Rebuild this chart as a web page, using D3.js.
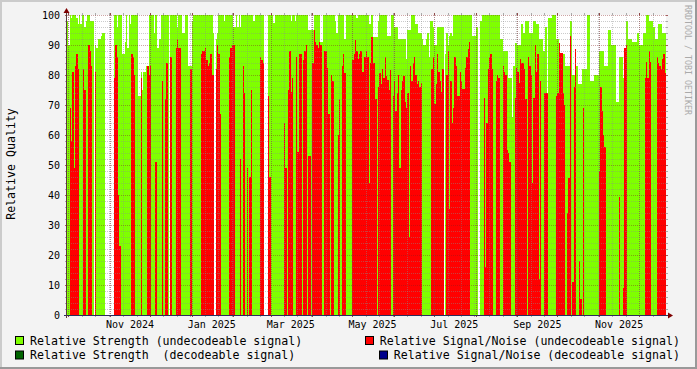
<!DOCTYPE html>
<html>
<head>
<meta charset="utf-8">
<script src="https://cdn.jsdelivr.net/npm/d3@7"></script>
<style>
html, body { margin: 0; padding: 0; background: #f3f3f3; }
svg { display: block; font-family: "DejaVu Sans Mono", monospace; }
</style>
</head>
<body>
<div id="chart"></div>
<script>
// one value per day, starting on this date (null = no data)
const firstDay = "2024-09-30";

const strength = [
  98, 90, 100, 99, 100, 100, 100, 99, 97, 100,
  97, 100, 100, 96, 98, 100, 100, 98, 98, 98,
  null, 90, 89, 92, 92, 93, 94, 94, null, null,
  null, null, null, null, null, 100, 100, 96, 100, 100,
  100, 87, 87, 91, 100, 89, 100, 97, 100, 100,
  100, 100, 100, 73, 73, 81, 75, 81, 81, 83,
  83, 100, 100, 100, 100, 94, 100, 89, 89, 92,
  100, 100, 100, 100, 100, 100, null, 100, 100, 100,
  100, 100, 96, 100, 100, 100, 94, 94, 100, 100,
  83, 83, 83, 98, 100, 100, 100, 100, 100, 100,
  100, 100, 100, 100, 100, 100, 100, 100, 100, 94,
  null, 92, 94, 100, 100, 100, 100, 98, 100, 100,
  100, 100, 100, 100, 96, 96, 100, 96, 100, 96,
  100, 100, 100, 100, 100, 100, 100, 100, 100, 98,
  100, 100, 100, 100, 100, 100, 100, null, null, null,
  100, 100, 100, 100, 97.5, 100, 100, 100, 100, 100,
  100, 100, 100, 100, 100, 100, 100, 98, 100, 100,
  98, 100, 100, 100, 100, 100, 100, 100, 100, 100,
  95, 95, 95, 95, 100, 100, 100, 100, 100, 91,
  91, 100, 100, 100, 100, 100, 100, 100, 100, 100,
  98, 94, 100, 100, 100, 100, 100, 92, 100, 100,
  100, 100, 100, 100, 100, 100, 99, 100, 100, 100,
  100, 100, 100, 100, 100, 97, 97, 100, 92.5, 92.5,
  92.5, 92.5, 98, 100, 100, 100, 100, 100, 100, 93,
  93, 93, 100, 100, 96, 96, 96, 92, 92, 92,
  92, 92, 92, 85.5, 95, 95, 95, 100, 100, 100,
  97, 97, 94, 94, 94, 92, 90, 90, 92, 94,
  86, 98, 98, 96, 90, 90, 96, 96, 96, 96,
  96, null, 87, 94, 90, 93, 94, 93, 100, 100,
  100, 100, 100, 100, 100, 100, 100, 100, 100, 100,
  100, 100, 93, 93, 93, 96, 96, null, 98, 98,
  100, 100, 100, 100, 100, 100, 100, 100, 100, 100,
  100, 100, 100, 92, 92, 88, 88, 88, 88, 79,
  79, 79, 66, 83, 90.5, 90.5, 90, 90, 90, 97,
  94, 94, 98, 98, 98, 94, 94, 94, 98, 98,
  97, 97, 92, 92, 92, 88, 88, 96, 64, 99,
  99, 99, 100, 100, 100, 92, 92, 83, 83, 83,
  87, 87, 83, 83, 83, 98, 98, 80, 80, 83,
  83, 77, 77, 77, 82, 82, 82, 82, 100, 100,
  78, 78, 78, 80, 80, 80, 80, 88, 88, 88,
  88, 83, 83, 83, 95, 95, 90, 90, 90, 90,
  71, 71, 86, 86, 86, 79, 79, 98, 98, 92,
  92, 92, 91, 91, 91, 94, 94, 90, 90, 90,
  94, 94, 100, 100, 98, 98, 98, 96, 96, 92,
  92, 97, 97, 97, 94, 94, 94
];

const snr = [
  0, 0, 69, 58, 81, 49, 83, 87, 82, 0,
  0, 0, 82, 75, 0, 0, 90, 88, 83, 0,
  null, 81, 0, 0, 0, 0, 0, 0, null, null,
  null, null, null, null, null, 79, 90, 86, 40, 23,
  0, 0, 0, 0, 0, 0, 0, 0, 87, 86,
  80, 0, 0, 0, 0, 79, 0, 0, 0, 0,
  83, 80, 83, 0, 0, 0, 51, 0, 0, 0,
  0, 78, 0, 72, 84, 0, null, 86, 0, 0,
  0, 89, 92, 89, 89, 0, 0, 0, 0, 0,
  0, 0, 82, 0, 0, 0, 0, 0, 0, 0,
  87, 88, 88, 89, 85, 83, 84, 87, 80, 80,
  null, 82, 90, 87, 67, 0, 0, 0, 0, 0,
  0, 86, 89, 90, 90, 0, 0, 0, 0, 52,
  0, 83, 74, 0, 49, 0, 46, 75, 0, 0,
  0, 0, 0, 0, 86, 85, 84, null, null, null,
  73, 46, 0, 0, 0, 0, 0, 0, 0, 0,
  0, 0, 64, 49, 0, 75, 88, 74.5, 79, 0,
  0, 86, 54.5, 87, 87, 0, 85, 88, 90, 0,
  53, 53, 0, 84, 95, 91, 90, 89, 91, 90,
  0, 0, 88, 88, 82.5, 67, 0, 80, 78, 0,
  0, 0, 60, 72, 0, 83, 87, 80.5, 0, 0,
  0, 0, 0, 85, 87, 91.7, 88, 85.5, 87, 88,
  81, 81, 86, 88, 86, 44, 84, 92.5, 84, 84,
  72, 0, 76, 80.5, 77, 82, 79, 86, 79.5, 78.5,
  75, 81.7, 0, 73, 78, 68, 74, 80, 49, 75,
  78, 79.5, 71, 69, 74, 26, 83, 78, 84, 86,
  80, 77, 78, 76, 77.5, 0, 0, 0, 0, 0,
  0, 0, 82, 86, 70.5, 77, 87, 81, 78, 74.5,
  82, null, 0, 80, 88, 35.5, 78, 64, 69, 86,
  83, 73, 73, 81, 78, 75.5, 75.5, 82.5, 86, 88.5,
  91, 0, 0, 0, 0, 0, 0, null, 0, 0,
  0, 72.5, 16, 64, 82, 86, 87, 82, 0, 0,
  78, 80, 79, 0, 0, 83, 81, 80, 55, 54,
  51, 0, 0, 0, 72.5, 82.5, 81, 77.5, 85.5, 84,
  84, 82, 72, 0, 86, 83, 80, 44, 72.5, 90,
  81, 87, 12, 78, 0, 0, 74, 74, 74, 0,
  0, 0, 0, 0, 0, 73, 74, 90.5, 87.5, 87.5,
  74, 70, 0, 34, 45.5, 93, 0, 11, 76, 88.5,
  0, 0, 18, 5.5, 0, 69, 0, 0, 0, 0,
  0, 0, 0, 0, 0, 0, 0, 48, 76, 68,
  60, 56, 0, 0, 0, 0, 0, 0, 0, 0,
  0, 0, 39.5, 0, 0, 9, 89, 90, 0, 0,
  0, 0, 0, 0, 0, 0, 0, 0, 0, 0,
  0, 79, 84.5, 79, 88, 84.5, 0, 0, 0, 0,
  86, 84, 83, 82, 85.5, 87, 80.5
];

const yTicks = [0, 10, 20, 30, 40, 50, 60, 70, 80, 90, 100];
const xLabels = ["Nov 2024", "Jan 2025", "Mar 2025", "May 2025", "Jul 2025", "Sep 2025", "Nov 2025"];

const legendLeft = [
  { name: "Relative Strength (undecodeable signal)", color: "#7fff00" },
  { name: "Relative Strength  (decodeable signal)", color: "#006400" }
];
const legendRight = [
  { name: "Relative Signal/Noise (undecodeable signal)", color: "#ff0000" },
  { name: "Relative Signal/Noise (decodeable signal)", color: "#00008b" }
];

const W = 697, H = 369;
const plotL = 67, plotR = 666, plotT = 15, plotB = 315;

const start = d3.utcParse("%Y-%m-%d")(firstDay);
const end = d3.utcDay.offset(start, strength.length);

const x = d3.scaleUtc().domain([start, end]).range([plotL, plotR]);
const y = d3.scaleLinear().domain([0, 100]).range([plotB, plotT]);

const svg = d3.select("#chart").append("svg")
    .attr("width", W)
    .attr("height", H);

// background + 3d frame
svg.append("rect").attr("width", W).attr("height", H).attr("fill", "#f3f3f3");
svg.append("rect").attr("x", 0).attr("y", 0).attr("width", W).attr("height", 2).attr("fill", "#cbcbcb");
svg.append("rect").attr("x", 0).attr("y", 0).attr("width", 2).attr("height", H).attr("fill", "#cbcbcb");
svg.append("rect").attr("x", 0).attr("y", H - 2).attr("width", W).attr("height", 2).attr("fill", "#999");
svg.append("rect").attr("x", W - 2).attr("y", 0).attr("width", 2).attr("height", H).attr("fill", "#999");

// canvas
svg.append("rect")
    .attr("x", plotL).attr("y", plotT)
    .attr("width", plotR - plotL).attr("height", plotB - plotT)
    .attr("fill", "#fff");

const days = strength.map((v, i) => ({
    x0: Math.round(x(d3.utcDay.offset(start, i))),
    x1: Math.round(x(d3.utcDay.offset(start, i + 1))),
    g: v,
    r: snr[i]
}));

const bars = svg.append("g").attr("shape-rendering", "crispEdges");

bars.selectAll(".g")
    .data(days.filter(d => d.g != null))
    .enter()
    .append("rect")
    .attr("x", d => d.x0)
    .attr("width", d => d.x1 - d.x0)
    .attr("y", d => Math.round(y(d.g)))
    .attr("height", d => plotB - Math.round(y(d.g)))
    .attr("fill", "#7fff00");

bars.selectAll(".r")
    .data(days.filter(d => d.r != null && d.r > 0))
    .enter()
    .append("rect")
    .attr("x", d => d.x0)
    .attr("width", d => d.x1 - d.x0)
    .attr("y", d => Math.round(y(d.r)))
    .attr("height", d => plotB - Math.round(y(d.r)))
    .attr("fill", "#ff0000");

// grid on top of the data, dotted like rrdtool, with short solid ticks outside
const grid = svg.append("g").attr("shape-rendering", "crispEdges");
const minorY = d3.range(0, 101, 2).filter(v => v % 10 !== 0);
const minorX = d3.utcDay.every(10).range(start, end);
const months = d3.utcMonth.range(start, end);

function hLines(values, color, tickColor) {
    const g = grid.append("g");
    values.forEach(v => {
        const yy = Math.round(y(v)) + 0.5;
        g.append("line")
            .attr("x1", plotL).attr("x2", plotR)
            .attr("y1", yy).attr("y2", yy)
            .attr("stroke", color)
            .attr("stroke-dasharray", "1,1");
        g.append("line").attr("x1", plotL - 2).attr("x2", plotL).attr("y1", yy).attr("y2", yy).attr("stroke", tickColor);
        g.append("line").attr("x1", plotR).attr("x2", plotR + 2).attr("y1", yy).attr("y2", yy).attr("stroke", tickColor);
    });
}
function vLines(values, color, tickColor) {
    const g = grid.append("g");
    values.forEach(d => {
        const xx = Math.round(x(d)) + 0.5;
        g.append("line")
            .attr("x1", xx).attr("x2", xx)
            .attr("y1", plotT).attr("y2", plotB)
            .attr("stroke", color)
            .attr("stroke-dasharray", "1,1");
        g.append("line").attr("x1", xx).attr("x2", xx).attr("y1", plotT - 2).attr("y2", plotT).attr("stroke", tickColor);
        g.append("line").attr("x1", xx).attr("x2", xx).attr("y1", plotB).attr("y2", plotB + 2).attr("stroke", tickColor);
    });
}

hLines(minorY, "rgba(140,140,140,0.45)", "rgba(140,140,140,0.7)");
vLines(minorX, "rgba(140,140,140,0.45)", "rgba(140,140,140,0.7)");
hLines(yTicks, "rgba(130,30,30,0.4)", "rgba(130,30,30,0.7)");
vLines(months, "rgba(130,30,30,0.4)", "rgba(130,30,30,0.7)");

// axes
svg.append("line")
    .attr("x1", plotL - 3).attr("x2", plotR + 6)
    .attr("y1", plotB + 0.5).attr("y2", plotB + 0.5)
    .attr("stroke", "#2c2c5a");
svg.append("line")
    .attr("x1", plotL - 0.5).attr("x2", plotL - 0.5)
    .attr("y1", plotB + 3).attr("y2", plotT - 6)
    .attr("stroke", "#5a3a3a");
svg.append("path")
    .attr("d", `M${plotR + 2},${plotB - 2.5}L${plotR + 7},${plotB + 0.5}L${plotR + 2},${plotB + 3.5}Z`)
    .attr("fill", "#7f0000");
svg.append("path")
    .attr("d", `M${plotL - 3.5},${plotT - 2}L${plotL - 0.5},${plotT - 7}L${plotL + 2.5},${plotT - 2}Z`)
    .attr("fill", "#7f0000");

// y tick labels
svg.append("g").selectAll("text")
    .data(yTicks)
    .enter()
    .append("text")
    .attr("x", 60)
    .attr("y", v => y(v) + 3.5)
    .attr("text-anchor", "end")
    .attr("font-size", 10)
    .attr("fill", "#000")
    .text(v => v);

// x labels, centred in the middle of their month like rrdtool does
const parseLabel = d3.utcParse("%b %Y");
svg.append("g").selectAll("text")
    .data(xLabels)
    .enter()
    .append("text")
    .attr("x", s => x(d3.utcDay.offset(parseLabel(s), 15)))
    .attr("y", 328)
    .attr("text-anchor", "middle")
    .attr("font-size", 10)
    .attr("fill", "#000")
    .text(s => s);

// y axis title
svg.append("text")
    .attr("transform", "translate(15,164) rotate(-90)")
    .attr("text-anchor", "middle")
    .attr("font-size", 11.6)
    .attr("fill", "#000")
    .text("Relative Quality");

// watermark
svg.append("text")
    .attr("transform", "translate(685,5) rotate(90)")
    .attr("font-size", 9)
    .attr("textLength", 110)
    .attr("lengthAdjust", "spacingAndGlyphs")
    .attr("fill", "#aaa")
    .text("RRDTOOL / TOBI OETIKER");

// legend
const legend = svg.append("g");
legendLeft.forEach((d, i) => {
    const by = 344.5 + i * 14.5;
    legend.append("rect")
        .attr("x", 15.5).attr("y", by - 8)
        .attr("width", 8).attr("height", 8)
        .attr("fill", d.color).attr("stroke", "#000");
    legend.append("text")
        .attr("x", 30).attr("y", by)
        .attr("font-size", 11.6)
        .style("white-space", "pre")
        .text(d.name);
});
legendRight.forEach((d, i) => {
    const by = 344.5 + i * 14.5;
    const t = legend.append("text")
        .attr("x", 680).attr("y", by)
        .attr("text-anchor", "end")
        .attr("font-size", 11.6)
        .style("white-space", "pre")
        .text(d.name);
    const tx = 680 - t.node().getComputedTextLength();
    legend.append("rect")
        .attr("x", Math.round(tx - 15) + 0.5).attr("y", by - 8)
        .attr("width", 8).attr("height", 8)
        .attr("fill", d.color).attr("stroke", "#000");
});
</script>
</body>
</html>
